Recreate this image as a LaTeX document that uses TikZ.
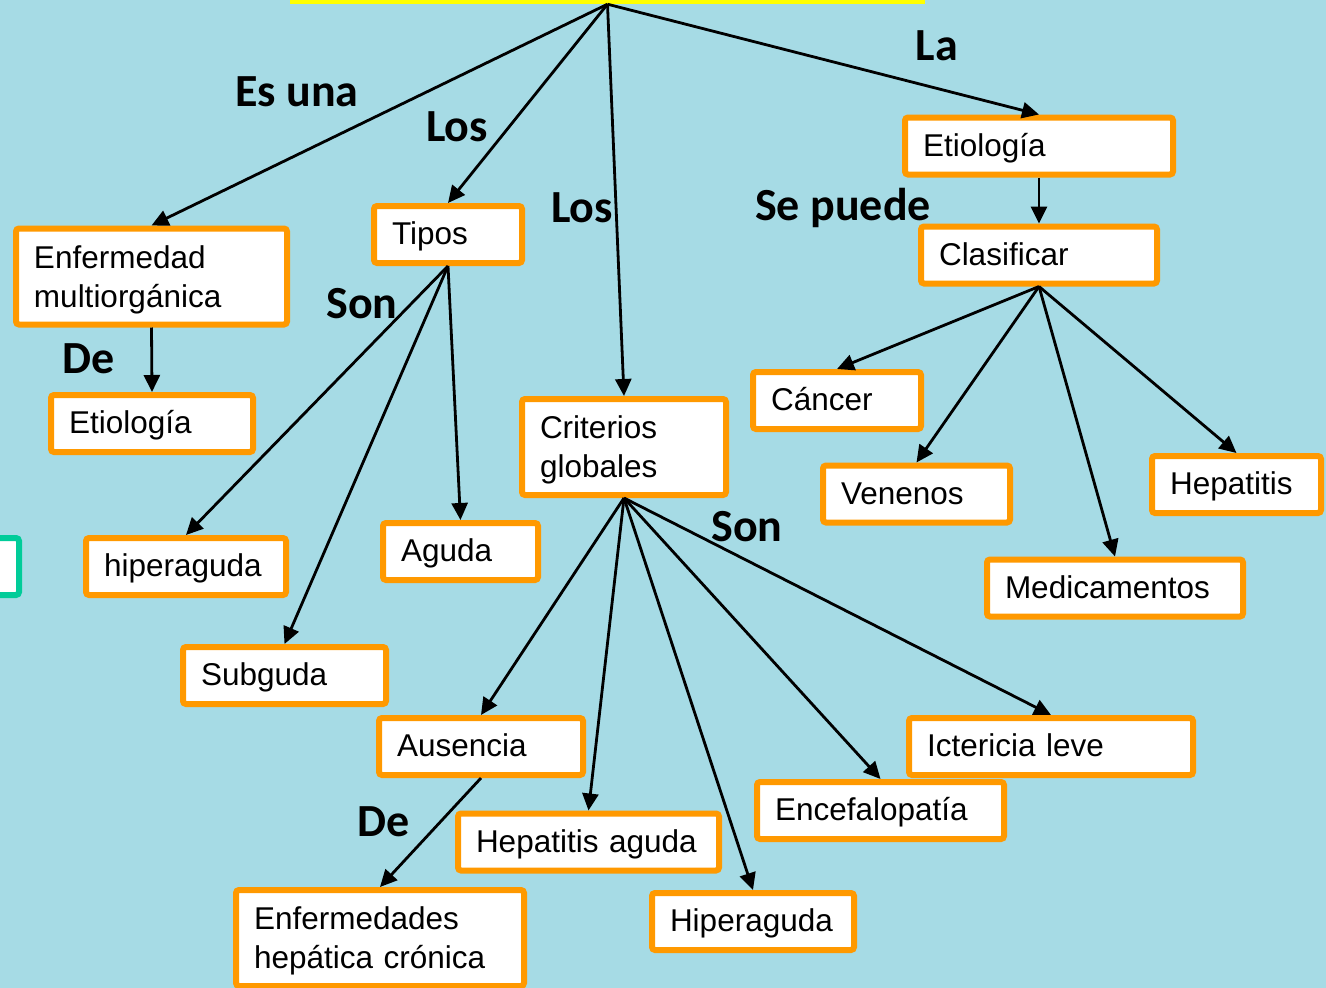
\documentclass[tikz,border=0pt]{standalone}
\usepackage{fontspec}
\setmainfont{Liberation Sans}
\newfontfamily\lblfont{Carlito}
\usetikzlibrary{arrows.meta}
\definecolor{boxorange}{RGB}{255,153,0}
\definecolor{waterblue}{RGB}{166,219,229}
\definecolor{titleyellow}{RGB}{255,255,0}
\definecolor{tealedge}{RGB}{0,204,153}

\begin{document}
\begin{tikzpicture}[x=1pt, y=-1pt]
            % Define styles
            \tikzstyle{box} = [rectangle, rounded corners=3pt, draw=boxorange, line width=6pt, fill=white, inner xsep=18pt, inner ysep=0pt, align=left, font=\fontsize{31.5}{39}\selectfont, minimum height=57pt]
            \tikzstyle{oneline} = [box, text height=26pt, text depth=6pt]
            \tikzstyle{twoline} = [box, minimum height=96pt, text height=25pt, text depth=42pt]
            \tikzstyle{link} = [font=\lblfont\bfseries\fontsize{46}{50}\selectfont, anchor=base, inner sep=0pt]
            \tikzstyle{arrow} = [line width=2.8pt, -{Triangle[length=17pt,width=16pt]}]

            % Background
            \useasboundingbox (0,0) rectangle (1326,988);
            \clip (0,0) rectangle (1326,988);
            \fill[waterblue] (0,0) rectangle (1326,988);

            % Title bar (cut off at the top) and cut-off box on the left
            \node (title) [fill=titleyellow, minimum width=635pt, minimum height=60pt] at (607.5,-26) {};
            \node (cut) [box, draw=tealedge, minimum width=160pt] at (-61,566.5) {};

            % Left branch
            \node (enf) [twoline, text width=235pt] at (151.5,276.5) {Enfermedad\\multiorgánica};
            \node (etiizq) [oneline, text width=166pt] at (152,423.5) {Etiología};

            % Tipos
            \node (tipos) [oneline, text width=112pt] at (448,234.5) {Tipos};
            \node (hiperag) [oneline, text width=164pt] at (186,566.5) {hiperaguda};
            \node (aguda) [oneline, text width=119pt] at (460.5,551.5) {Aguda};
            \node (subguda) [oneline, text width=167pt] at (284.5,675.5) {Subguda};

            % Criterios globales
            \node (criterios) [twoline, text width=168pt] at (624,447) {Criterios\\globales};
            \node (ausencia) [oneline, text width=168pt] at (481,746.5) {Ausencia};
            \node (enfhep) [twoline, text width=252pt] at (380,938) {Enfermedades\\hepática crónica};
            \node (hepaguda) [oneline, text width=225pt] at (588.5,842) {Hepatitis aguda};
            \node (hiperagII) [oneline, text width=166pt] at (753,921.5) {Hiperaguda};
            \node (encef) [oneline, text width=211pt] at (880.5,810.5) {Encefalopatía};
            \node (icter) [oneline, text width=248pt] at (1051,746.5) {Ictericia leve};

            % Right branch
            \node (etider) [oneline, text width=232pt] at (1039,146) {Etiología};
            \node (clasif) [oneline, text width=200pt] at (1039,255) {Clasificar};
            \node (cancer) [oneline, text width=132pt] at (837,400.5) {Cáncer};
            \node (venenos) [oneline, text width=151pt] at (916.5,494) {Venenos};
            \node (medic) [oneline, text width=220pt] at (1115,588) {Medicamentos};
            \node (hepat) [oneline, text width=133pt] at (1236.5,484.5) {Hepatitis};

            % Linking words
            \node (lesuna) [link] at (297,106) {Es una};
            \node (llos) [link] at (457,141) {Los};
            \node (llosII) [link] at (582,222) {Los};
            \node (lla) [link] at (937,60) {La};
            \node (lsepuede) [link] at (843,220) {Se puede};
            \node (lde) [link] at (89,373) {De};
            \node (lson) [link] at (362,318) {Son};
            \node (lsonII) [link] at (747,541) {Son};
            \node (ldeII) [link] at (384,836) {De};

            % Arrows
            \draw [arrow] (title.south) -- (enf.north);
            \draw [arrow] (title.south) -- (tipos.north);
            \draw [arrow] (title.south) -- (criterios.north);
            \draw [arrow] (title.south) -- (etider.north);
            \draw [arrow] (enf.south) -- (etiizq.north);
            \draw [arrow] (tipos.south) -- (hiperag.north);
            \draw [arrow] (tipos.south) -- (subguda.north);
            \draw [arrow] (tipos.south) -- (aguda.north);
            \draw [arrow] (criterios.south) -- (ausencia.north);
            \draw [arrow] (criterios.south) -- (hepaguda.north);
            \draw [arrow] (criterios.south) -- (hiperagII.north);
            \draw [arrow] (criterios.south) -- (encef.north);
            \draw [arrow] (criterios.south) -- (icter.north);
            \draw [arrow] (ausencia.south) -- (enfhep.north);
            \draw [arrow] (etider.south) -- (clasif.north);
            \draw [arrow] (clasif.south) -- (cancer.north);
            \draw [arrow] (clasif.south) -- (venenos.north);
            \draw [arrow] (clasif.south) -- (medic.north);
            \draw [arrow] (clasif.south) -- (hepat.north);
\end{tikzpicture}
\end{document}
